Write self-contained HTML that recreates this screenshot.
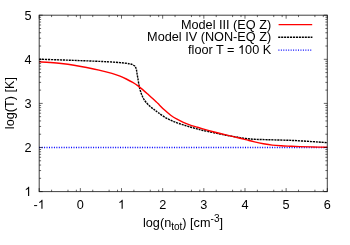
<!DOCTYPE html>
<html><head><meta charset="utf-8"><title>plot</title>
<style>
html,body{margin:0;padding:0;background:#fff;}
body{width:350px;height:245px;overflow:hidden;}
svg{display:block;will-change:transform;opacity:0.999;}
text{font-family:"Liberation Sans",sans-serif;font-size:12.7px;fill:#000;}
</style></head><body>
<svg width="350" height="245" viewBox="0 0 350 245">
<rect width="350" height="245" fill="#fff"/>
<path d="M39.2,147.5 L327.3,147.5" stroke="#0000ff" stroke-width="1.4" stroke-dasharray="1,1.45" fill="none"/>
<path d="M39.20,59.20 C42.67,59.32 53.20,59.67 60.00,59.90 C66.80,60.13 73.33,60.35 80.00,60.60 C86.67,60.85 95.00,61.18 100.00,61.40 C105.00,61.62 106.67,61.70 110.00,61.90 C113.33,62.10 117.28,62.37 120.00,62.60 C122.72,62.83 124.63,63.08 126.30,63.30 C127.97,63.52 128.95,63.67 130.00,63.90 C131.05,64.13 131.87,64.38 132.60,64.70 C133.33,65.02 133.90,65.37 134.40,65.80 C134.90,66.23 135.25,66.60 135.60,67.30 C135.95,68.00 136.25,68.88 136.50,70.00 C136.75,71.12 136.85,72.48 137.10,74.00 C137.35,75.52 137.68,77.20 138.00,79.10 C138.32,81.00 138.72,83.83 139.00,85.40 C139.28,86.97 139.40,87.38 139.70,88.50 C140.00,89.62 140.30,90.68 140.80,92.10 C141.30,93.52 141.87,95.35 142.70,97.00 C143.53,98.65 144.53,100.40 145.80,102.00 C147.07,103.60 148.82,105.27 150.30,106.60 C151.78,107.93 153.42,109.03 154.70,110.00 C155.98,110.97 156.40,111.25 158.00,112.40 C159.60,113.55 162.18,115.60 164.30,116.90 C166.42,118.20 168.58,119.22 170.70,120.20 C172.82,121.18 174.90,122.02 177.00,122.80 C179.10,123.58 181.20,124.23 183.30,124.90 C185.40,125.57 187.48,126.18 189.60,126.80 C191.72,127.42 193.93,128.03 196.00,128.60 C198.07,129.17 199.13,129.53 202.00,130.20 C204.87,130.87 209.22,131.77 213.20,132.60 C217.18,133.43 221.77,134.42 225.90,135.20 C230.03,135.98 234.70,136.75 238.00,137.30 C241.30,137.85 242.93,138.17 245.70,138.50 C248.47,138.83 251.00,139.10 254.60,139.30 C258.20,139.50 260.97,139.51 267.30,139.70 C273.63,139.89 284.17,140.07 292.60,140.45 C301.03,140.83 312.12,141.62 317.90,142.00 C323.68,142.38 325.73,142.58 327.30,142.70" stroke="#000" stroke-width="1.4" stroke-dasharray="2.1,0.85" fill="none"/>
<path d="M39.20,61.80 C41.00,61.92 46.32,62.22 50.00,62.50 C53.68,62.78 57.30,63.05 61.30,63.50 C65.30,63.95 69.78,64.53 74.00,65.20 C78.22,65.87 82.43,66.68 86.60,67.50 C90.77,68.32 94.78,69.12 99.00,70.10 C103.22,71.08 108.40,72.38 111.90,73.40 C115.40,74.42 117.60,75.27 120.00,76.20 C122.40,77.13 124.18,77.97 126.30,79.00 C128.42,80.03 130.80,81.30 132.70,82.40 C134.60,83.50 136.03,84.40 137.70,85.60 C139.37,86.80 140.82,88.00 142.70,89.60 C144.58,91.20 146.90,93.32 149.00,95.20 C151.10,97.08 153.80,99.50 155.30,100.90 C156.80,102.30 156.50,102.12 158.00,103.60 C159.50,105.08 162.18,107.87 164.30,109.80 C166.42,111.73 168.58,113.63 170.70,115.20 C172.82,116.77 174.90,118.02 177.00,119.20 C179.10,120.38 181.20,121.37 183.30,122.30 C185.40,123.23 187.48,124.05 189.60,124.80 C191.72,125.55 193.93,126.17 196.00,126.80 C198.07,127.43 199.13,127.78 202.00,128.60 C204.87,129.42 209.22,130.65 213.20,131.70 C217.18,132.75 221.77,133.90 225.90,134.90 C230.03,135.90 234.70,136.92 238.00,137.70 C241.30,138.48 242.93,138.90 245.70,139.60 C248.47,140.30 251.65,141.22 254.60,141.90 C257.55,142.58 260.45,143.17 263.40,143.70 C266.35,144.23 269.35,144.75 272.30,145.10 C275.25,145.45 278.15,145.62 281.10,145.80 C284.05,145.98 286.85,146.07 290.00,146.20 C293.15,146.33 296.17,146.47 300.00,146.60 C303.83,146.72 308.45,146.84 313.00,146.95 C317.55,147.06 324.92,147.20 327.30,147.25" stroke="#ff0000" stroke-width="1.4" fill="none" stroke-linejoin="round"/>
<rect x="39.2" y="15.2" width="288.1" height="176.4" fill="none" stroke="#000" stroke-width="1" stroke-opacity="0.75"/>
<path d="M39.20,191.60L39.20,188.10M39.20,15.20L39.20,18.70M51.59,191.60L51.59,189.70M51.59,15.20L51.59,17.10M67.97,191.60L67.97,189.70M67.97,15.20L67.97,17.10M76.37,191.60L76.37,189.70M76.37,15.20L76.37,17.10M80.36,191.60L80.36,188.10M80.36,15.20L80.36,18.70M92.75,191.60L92.75,189.70M92.75,15.20L92.75,17.10M109.12,191.60L109.12,189.70M109.12,15.20L109.12,17.10M117.53,191.60L117.53,189.70M117.53,15.20L117.53,17.10M121.51,191.60L121.51,188.10M121.51,15.20L121.51,18.70M133.90,191.60L133.90,189.70M133.90,15.20L133.90,17.10M150.28,191.60L150.28,189.70M150.28,15.20L150.28,17.10M158.68,191.60L158.68,189.70M158.68,15.20L158.68,17.10M162.67,191.60L162.67,188.10M162.67,15.20L162.67,18.70M175.06,191.60L175.06,189.70M175.06,15.20L175.06,17.10M191.44,191.60L191.44,189.70M191.44,15.20L191.44,17.10M199.84,191.60L199.84,189.70M199.84,15.20L199.84,17.10M203.83,191.60L203.83,188.10M203.83,15.20L203.83,18.70M216.22,191.60L216.22,189.70M216.22,15.20L216.22,17.10M232.60,191.60L232.60,189.70M232.60,15.20L232.60,17.10M241.00,191.60L241.00,189.70M241.00,15.20L241.00,17.10M244.99,191.60L244.99,188.10M244.99,15.20L244.99,18.70M257.38,191.60L257.38,189.70M257.38,15.20L257.38,17.10M273.75,191.60L273.75,189.70M273.75,15.20L273.75,17.10M282.15,191.60L282.15,189.70M282.15,15.20L282.15,17.10M286.14,191.60L286.14,188.10M286.14,15.20L286.14,18.70M298.53,191.60L298.53,189.70M298.53,15.20L298.53,17.10M314.91,191.60L314.91,189.70M314.91,15.20L314.91,17.10M323.31,191.60L323.31,189.70M323.31,15.20L323.31,17.10M327.30,191.60L327.30,188.10M327.30,15.20L327.30,18.70M39.20,191.60L42.70,191.60M327.30,191.60L323.80,191.60M39.20,178.32L41.10,178.32M327.30,178.32L325.40,178.32M39.20,170.56L41.10,170.56M327.30,170.56L325.40,170.56M39.20,165.05L41.10,165.05M327.30,165.05L325.40,165.05M39.20,160.78L41.10,160.78M327.30,160.78L325.40,160.78M39.20,157.28L41.10,157.28M327.30,157.28L325.40,157.28M39.20,154.33L41.10,154.33M327.30,154.33L325.40,154.33M39.20,151.77L41.10,151.77M327.30,151.77L325.40,151.77M39.20,149.52L41.10,149.52M327.30,149.52L325.40,149.52M39.20,147.50L42.70,147.50M327.30,147.50L323.80,147.50M39.20,134.22L41.10,134.22M327.30,134.22L325.40,134.22M39.20,126.46L41.10,126.46M327.30,126.46L325.40,126.46M39.20,120.95L41.10,120.95M327.30,120.95L325.40,120.95M39.20,116.68L41.10,116.68M327.30,116.68L325.40,116.68M39.20,113.18L41.10,113.18M327.30,113.18L325.40,113.18M39.20,110.23L41.10,110.23M327.30,110.23L325.40,110.23M39.20,107.67L41.10,107.67M327.30,107.67L325.40,107.67M39.20,105.42L41.10,105.42M327.30,105.42L325.40,105.42M39.20,103.40L42.70,103.40M327.30,103.40L323.80,103.40M39.20,90.12L41.10,90.12M327.30,90.12L325.40,90.12M39.20,82.36L41.10,82.36M327.30,82.36L325.40,82.36M39.20,76.85L41.10,76.85M327.30,76.85L325.40,76.85M39.20,72.58L41.10,72.58M327.30,72.58L325.40,72.58M39.20,69.08L41.10,69.08M327.30,69.08L325.40,69.08M39.20,66.13L41.10,66.13M327.30,66.13L325.40,66.13M39.20,63.57L41.10,63.57M327.30,63.57L325.40,63.57M39.20,61.32L41.10,61.32M327.30,61.32L325.40,61.32M39.20,59.30L42.70,59.30M327.30,59.30L323.80,59.30M39.20,46.02L41.10,46.02M327.30,46.02L325.40,46.02M39.20,38.26L41.10,38.26M327.30,38.26L325.40,38.26M39.20,32.75L41.10,32.75M327.30,32.75L325.40,32.75M39.20,28.48L41.10,28.48M327.30,28.48L325.40,28.48M39.20,24.98L41.10,24.98M327.30,24.98L325.40,24.98M39.20,22.03L41.10,22.03M327.30,22.03L325.40,22.03M39.20,19.47L41.10,19.47M327.30,19.47L325.40,19.47M39.20,17.22L41.10,17.22M327.30,17.22L325.40,17.22M39.20,15.20L42.70,15.20M327.30,15.20L323.80,15.20" stroke="#000" stroke-width="0.8" stroke-opacity="0.75" fill="none"/>
<g><text x="80.4" y="208.8" text-anchor="middle">0</text><text x="162.7" y="208.8" text-anchor="middle">2</text><text x="203.8" y="208.8" text-anchor="middle">3</text><text x="245.0" y="208.8" text-anchor="middle">4</text><text x="286.1" y="208.8" text-anchor="middle">5</text><text x="327.3" y="208.8" text-anchor="middle">6</text><text x="33.55" y="208.8">-</text><path d="M763,0 H583 V1147 Q518,1085 412.5,1023 T223,930 V1104 Q373,1174.5 485.5,1275 T644,1466 H763 Z" transform="translate(37.78,208.80) scale(0.00620,-0.00620)" fill="#000"/><path d="M763,0 H583 V1147 Q518,1085 412.5,1023 T223,930 V1104 Q373,1174.5 485.5,1275 T644,1466 H763 Z" transform="translate(117.98,208.80) scale(0.00620,-0.00620)" fill="#000"/><text x="31.5" y="151.8" text-anchor="end">2</text><text x="31.5" y="107.7" text-anchor="end">3</text><text x="31.5" y="63.6" text-anchor="end">4</text><text x="31.5" y="19.5" text-anchor="end">5</text><path d="M763,0 H583 V1147 Q518,1085 412.5,1023 T223,930 V1104 Q373,1174.5 485.5,1275 T644,1466 H763 Z" transform="translate(24.44,195.90) scale(0.00620,-0.00620)" fill="#000"/></g>
<text x="271.2" y="28.8" text-anchor="end">Model III (EQ Z)</text>
<text x="271.2" y="41.4" text-anchor="end">Model IV (NON-EQ Z)</text>
<text x="271.2" y="54.0" text-anchor="end">00 K</text><path d="M763,0 H583 V1147 Q518,1085 412.5,1023 T223,930 V1104 Q373,1174.5 485.5,1275 T644,1466 H763 Z" transform="translate(238.01,54.00) scale(0.00620,-0.00620)" fill="#000"/><text x="234.48" y="54.0" text-anchor="end">floor T =</text>
<path d="M278.6,24.6 L312.2,24.6" stroke="#ff0000" stroke-width="1.4"/>
<path d="M278.2,37.3 L312.4,37.3" stroke="#000" stroke-width="1.4" stroke-dasharray="2.1,0.85"/>
<path d="M278.4,50.1 L312.4,50.1" stroke="#0000ff" stroke-width="1.4" stroke-dasharray="1,1.45"/>
<text transform="translate(14.2,103.1) rotate(-90)" text-anchor="middle">log(T) [K]</text>
<text x="183" y="226.5" text-anchor="middle">log(n<tspan font-size="10" dy="3">tot</tspan><tspan dy="-3">) [cm</tspan><tspan font-size="10" dy="-5">-3</tspan><tspan dy="5">]</tspan></text>
</svg>
</body></html>
